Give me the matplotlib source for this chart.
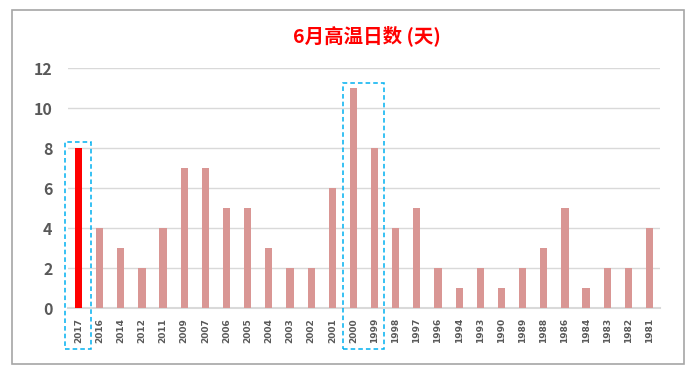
import matplotlib
matplotlib.use('Agg')
import matplotlib.pyplot as plt
from matplotlib.patches import Rectangle

plt.rcParams['font.family'] = ['Noto Sans CJK SC', 'DejaVu Sans']

years = ['2017', '2016', '2014', '2012', '2011', '2009', '2007', '2006', '2005', '2004',
         '2003', '2002', '2001', '2000', '1999', '1998', '1997', '1996', '1994', '1993',
         '1990', '1989', '1988', '1986', '1984', '1983', '1982', '1981']
days = [8, 4, 3, 2, 4, 7, 7, 5, 5, 3, 2, 2, 6, 11, 8, 4, 5, 2, 1, 2, 1, 2, 3, 5, 1, 2, 2, 4]
title = '6月高温日数 (天)'

colors = ['#FF0000' if y == '2017' else '#D99694' for y in years]

fig = plt.figure(figsize=(7, 3.8), dpi=100)
ax = fig.add_axes([0.097, 0.189, 0.846, 0.632])

x = range(len(years))
ax.bar(x, days, width=0.34, color=colors, zorder=3)

ax.set_xlim(-0.5, len(years) - 0.5)
ax.set_ylim(0, 12)
ax.set_yticks(range(0, 13, 2))
ax.set_xticks(list(x))
ax.set_xticklabels(years, rotation=90, fontsize=6.5, color='#595959', fontweight='bold',
                   family='DejaVu Sans')
ax.tick_params(axis='y', labelsize=11.5, colors='#595959', length=0, pad=11)
ax.tick_params(axis='x', length=0, pad=7)
for lab in ax.get_yticklabels():
    lab.set_fontweight('bold')

ax.grid(axis='y', color='#D9D9D9', linewidth=1, zorder=0)
for s in ['top', 'right', 'left']:
    ax.spines[s].set_visible(False)
ax.spines['bottom'].set_color('#D9D9D9')
ax.spines['bottom'].set_linewidth(1.5)

# dashed highlight boxes
box_kw = dict(fill=False, edgecolor='#00B0F0', linestyle=(0, (3, 2)), linewidth=1.1, clip_on=False, zorder=4)
ax.add_patch(Rectangle((-0.66, -2.05), 1.23, 10.35, **box_kw))
ax.add_patch(Rectangle((12.53, -2.05), 1.92, 13.3, **box_kw))

fig.text(0.524, 0.905, title, color='#FF0000', fontsize=14, fontweight='bold', ha='center', va='center')

# outer chart border
fig.patches.append(Rectangle((12 / 700, 1 - 364 / 380), 672 / 700, 354 / 380,
                             transform=fig.transFigure, fill=False, edgecolor='#A6A6A6', linewidth=1.2))

fig.savefig('out.png', dpi=100)
